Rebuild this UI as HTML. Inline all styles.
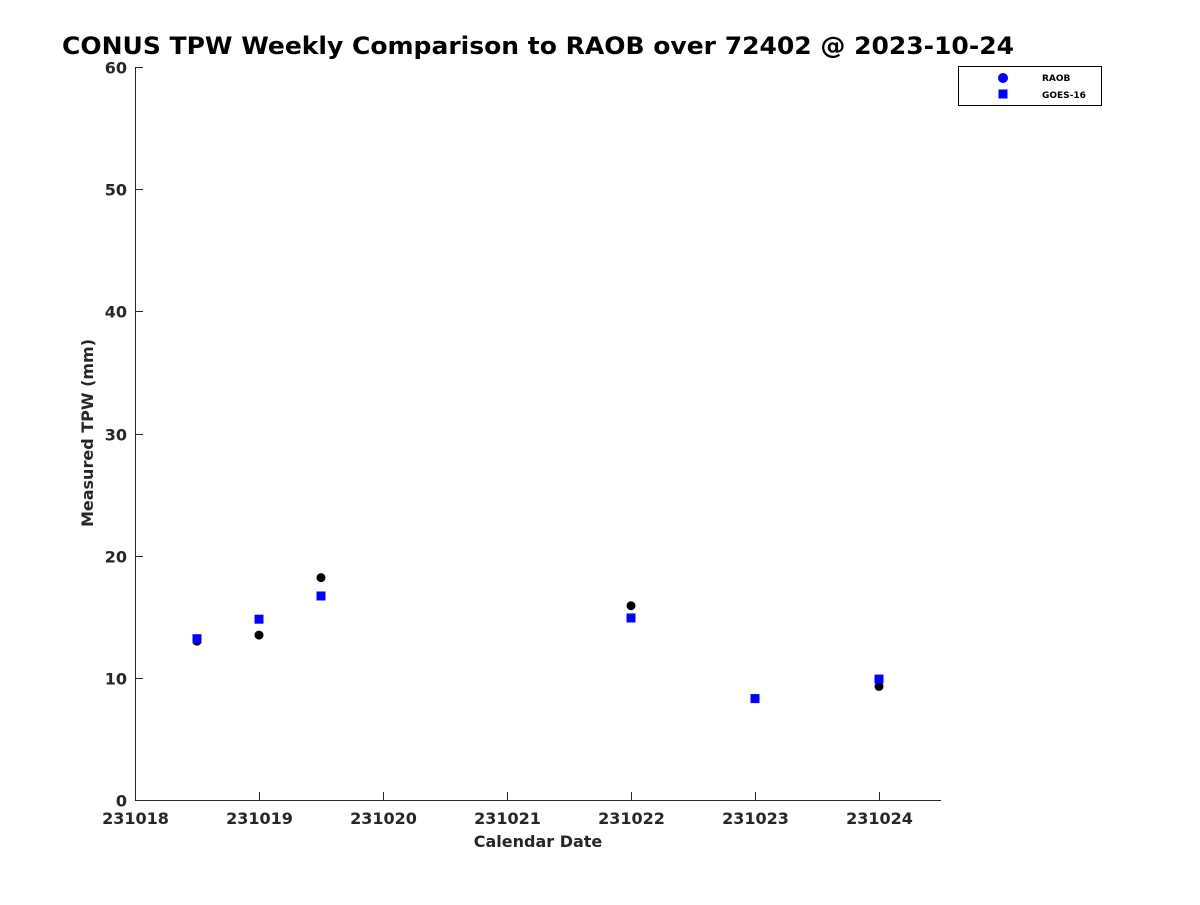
<!DOCTYPE html>
<html><head><meta charset="utf-8"><style>
body{margin:0;background:#fff;}
svg text{font-family:"DejaVu Sans","Liberation Sans",sans-serif;font-weight:bold;}
</style></head><body>
<svg id="chart" width="1200" height="900">
<text x="62" y="54" font-size="24" fill="#000" textLength="952" lengthAdjust="spacingAndGlyphs">CONUS TPW Weekly Comparison to RAOB over 72402 @ 2023-10-24</text>
<g id="axes"></g>
<g id="marks"></g>
<g>
<rect x="958.5" y="66.5" width="143" height="39" fill="#fff" stroke="#000"/>
<circle cx="1003" cy="78" r="5" fill="#0000ff"/>
<text x="1042" y="81" font-size="9" fill="#000">RAOB</text>
<rect x="998.5" y="89.5" width="9" height="9" fill="#0000ff"/>
<text x="1042" y="98" font-size="9" fill="#000">GOES-16</text>
</g>
<text x="538" y="847" font-size="16" text-anchor="middle" fill="#262626">Calendar Date</text>
<text transform="translate(93,433) rotate(-90)" font-size="16" text-anchor="middle" fill="#262626">Measured TPW (mm)</text>
</svg>
<script>
const dates=[231018.5,231019,231019.5,231022,231023,231024];
const raob=[13.0,13.5,18.2,15.9,8.3,9.3];
const goes=[13.2,14.8,16.7,14.9,8.3,9.9];
const xTicks=[231018,231019,231020,231021,231022,231023,231024];
const yTicks=[0,10,20,30,40,50,60];
const X0=135,X1=941,XMIN=231018,XMAX=231024.5,Y0=800,Y1=67,YMIN=0,YMAX=60;
const xs=v=>X0+(v-XMIN)/(XMAX-XMIN)*(X1-X0);
const ys=v=>Y0-(v-YMIN)/(YMAX-YMIN)*(Y0-Y1);
const NS="http://www.w3.org/2000/svg";
const ax=document.getElementById('axes'),mk=document.getElementById('marks');
function mkEl(t,a,p){const e=document.createElementNS(NS,t);for(const k in a)e.setAttribute(k,a[k]);p.appendChild(e);return e;}
let l=mkEl('path',{d:`M${X0+.5} ${Y1}V${Y0+.5}H${X1}`,stroke:'#262626',fill:'none'},ax);


xTicks.forEach(v=>{const x=Math.round(xs(v))+.5;
let t=mkEl('line',{x1:x,x2:x,y1:Y0,y2:Y0-8,stroke:'#262626'},ax);


let tx=mkEl('text',{x:x,y:824,'font-size':16,'text-anchor':'middle',fill:'#262626'},ax);tx.textContent=v;

});
yTicks.forEach(v=>{const y=Math.round(ys(v))+.5;
let t=mkEl('line',{x1:X0,x2:X0+8,y1:y,y2:y,stroke:'#262626'},ax);


let tx=mkEl('text',{x:127,y:y+6,'font-size':16,'text-anchor':'end',fill:'#262626'},ax);tx.textContent=v;

});
dates.forEach((d,i)=>{let c=mkEl('circle',{cx:xs(d),cy:ys(raob[i]),r:4.5,fill:'#000'},mk);

});
dates.forEach((d,i)=>{let r=mkEl('rect',{x:xs(d)-4.5,y:ys(goes[i])-4.5,width:9,height:9,fill:'#0000ff'},mk);

});
</script>
</body></html>
